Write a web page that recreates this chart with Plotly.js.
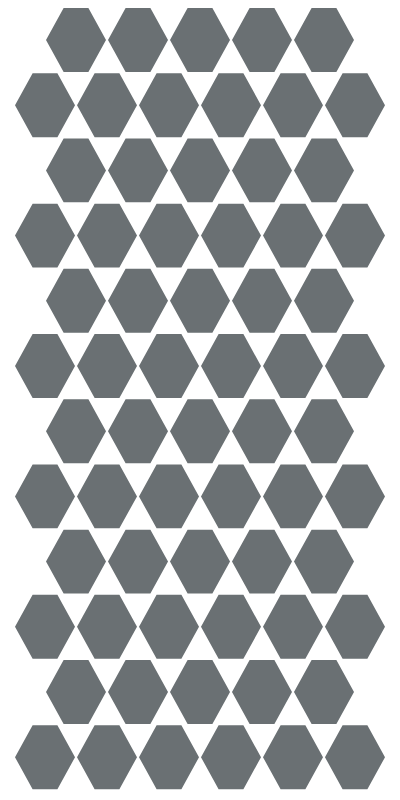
<!DOCTYPE html>
<html>
<head>
<script src="https://cdn.plot.ly/plotly-3.0.1.min.js"></script>
<style>body{margin:0;background:#fff}#chart{width:400px;height:800px}</style>
</head>
<body>
<div id="chart"></div>
<script>
// hexagon centres, column / row units
const centerX = [
  0.5,1.5,2.5,3.5,4.5,
  0,1,2,3,4,5,
  0.5,1.5,2.5,3.5,4.5,
  0,1,2,3,4,5,
  0.5,1.5,2.5,3.5,4.5,
  0,1,2,3,4,5,
  0.5,1.5,2.5,3.5,4.5,
  0,1,2,3,4,5,
  0.5,1.5,2.5,3.5,4.5,
  0,1,2,3,4,5,
  0.5,1.5,2.5,3.5,4.5,
  0,1,2,3,4,5
];
const centerY = [
  0,0,0,0,0,
  1,1,1,1,1,1,
  2,2,2,2,2,
  3,3,3,3,3,3,
  4,4,4,4,4,
  5,5,5,5,5,5,
  6,6,6,6,6,
  7,7,7,7,7,7,
  8,8,8,8,8,
  9,9,9,9,9,9,
  10,10,10,10,10,
  11,11,11,11,11,11
];
const hexColor = '#6a7073';

const halfW = 0.484, halfTop = 0.2, halfH = 0.49;
const xs = [], ys = [];
centerX.forEach((cx, i) => {
  const cy = centerY[i];
  xs.push(cx - halfW, cx - halfTop, cx + halfTop, cx + halfW, cx + halfTop, cx - halfTop, cx - halfW, null);
  ys.push(cy, cy - halfH, cy - halfH, cy, cy + halfH, cy + halfH, cy, null);
});

const traces = [{
  x: xs, y: ys,
  type: 'scatter', mode: 'lines',
  fill: 'toself', fillcolor: hexColor,
  line: { width: 0, color: hexColor },
  hoverinfo: 'skip', showlegend: false
}];

const layout = {
  width: 400, height: 800,
  margin: { l: 0, r: 0, t: 0, b: 0 },
  paper_bgcolor: '#fff', plot_bgcolor: '#fff',
  xaxis: { range: [-0.726, 5.726], visible: false, fixedrange: true },
  yaxis: { range: [11.656, -0.613], visible: false, fixedrange: true },
  showlegend: false
};

Plotly.newPlot('chart', traces, layout, { displayModeBar: false, staticPlot: true });
</script>
</body>
</html>
